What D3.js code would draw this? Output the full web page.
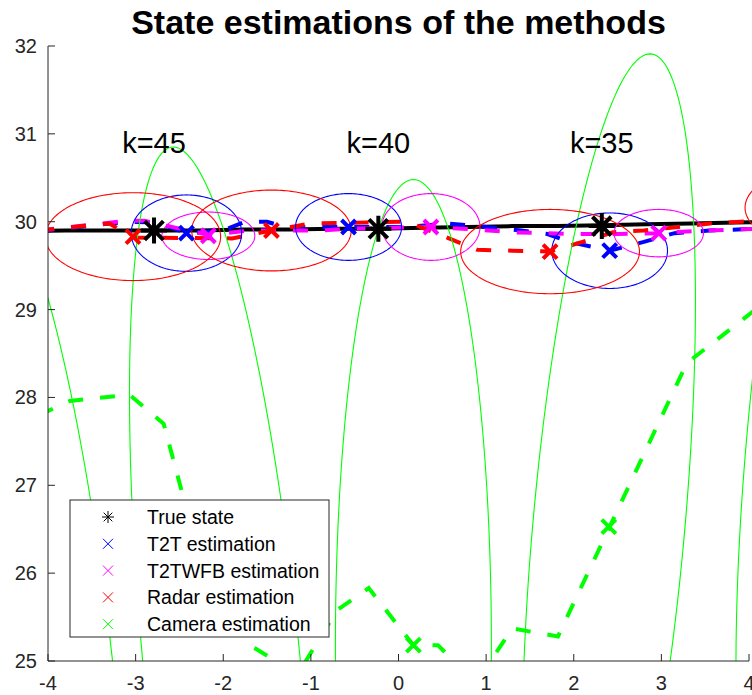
<!DOCTYPE html>
<html>
<head>
<meta charset="utf-8">
<title>State estimations of the methods</title>
<style>
    body { margin: 0; background: #fff; }
    svg { display: block; font-family: "Liberation Sans", Arial, sans-serif; }
    .tick-label { font-size: 20px; fill: #262626; }
    .axis-line { stroke: #262626; stroke-width: 1; fill: none; }
    .traj { fill: none; stroke-width: 4; stroke-dasharray: 15 17; }
    .ell { fill: none; stroke-width: 1.1; }
</style>
</head>
<body>
<div id="chart"></div>
<script src="https://cdn.jsdelivr.net/npm/d3@7"></script>
<script>
// axis ticks
var xTicks = [-4, -3, -2, -1, 0, 1, 2, 3, 4];
var yTicks = [25, 26, 27, 28, 29, 30, 31, 32];

// true state trajectory and marked steps
var trueX = [-4.31, -3.80, -3.29, -2.79, -2.27, -1.76, -1.25, -0.74, -0.23, 0.28, 0.79, 1.30, 1.81, 2.32, 2.83, 3.34, 3.85, 4.36];
var trueY = [29.89, 29.90, 29.90, 29.90, 29.90, 29.91, 29.91, 29.92, 29.92, 29.93, 29.94, 29.95, 29.95, 29.96, 29.97, 29.98, 29.99, 30.00];
var stepLabels = ["k=35", "k=40", "k=45"];
var trueMarkX = [2.32, -0.23, -2.79];
var trueMarkY = [29.95, 29.92, 29.90];

// T2T estimation
var t2tX = [-4.1, -3.1, -2.75, -2.42, -2.0, -1.75, -1.5, -1.3, -0.57, 0.1, 0.55, 1.0, 1.4, 1.7, 1.95, 2.41, 2.8, 3.15, 3.55, 4.1];
var t2tY = [29.89, 30.00, 29.99, 29.87, 29.90, 30.00, 30.00, 29.94, 29.94, 29.94, 29.98, 29.94, 29.90, 29.86, 29.77, 29.67, 29.77, 29.87, 29.90, 29.92];
var t2tMarkX = [2.41, -0.57, -2.42];
var t2tMarkY = [29.67, 29.94, 29.87];
var t2tRx = [0.66, 0.605, 0.63];
var t2tRy = [0.43, 0.38, 0.435];
var t2tSkew = [0, 0, 0];

// T2TWFB estimation
var wfbX = [-4.1, -3.1, -2.9, -2.17, -1.7, -0.9, -0.6, 0.37, 0.9, 1.3, 1.65, 2.05, 2.5, 2.97, 3.5, 4.1];
var wfbY = [29.90, 30.01, 30.01, 29.85, 29.90, 29.90, 29.92, 29.94, 29.91, 29.88, 29.87, 29.86, 29.86, 29.87, 29.90, 29.92];
var wfbMarkX = [2.97, 0.37, -2.17];
var wfbMarkY = [29.87, 29.94, 29.84];
var wfbRx = [0.51, 0.56, 0.53];
var wfbRy = [0.27, 0.38, 0.27];
var wfbSkew = [0, 0, 0];

// Radar estimation
var radarX = [-4.1, -3.6, -3.3, -3.03, -1.9, -1.45, -1.0, 0.1, 0.5, 0.9, 1.3, 1.73, 2.1, 2.45, 2.8, 3.2, 3.55, 4.1];
var radarY = [29.90, 29.95, 29.98, 29.82, 29.81, 29.90, 29.98, 30.00, 29.84, 29.68, 29.67, 29.66, 29.77, 29.88, 29.90, 29.94, 29.98, 30.01];
var radarMarkX = [4.955, 1.73, -1.45, -3.03];
var radarMarkY = [30.16, 29.66, 29.90, 29.83];
var radarRx = [1.0, 1.02, 0.91, 1.0];
var radarRy = [0.48, 0.48, 0.46, 0.50];
var radarSkew = [0, 0, 0, 0];

// Camera estimation
var camX = [-4.1, -3.75, -3.07, -2.68, -2.25, -1.73, -1.15, -0.70, -0.34, 0.17, 0.45, 0.88, 1.30, 1.82, 3.29, 4.1];
var camY = [27.80, 27.96, 28.03, 27.70, 26.10, 25.20, 24.85, 25.58, 25.83, 25.18, 25.18, 24.75, 25.37, 25.28, 28.39, 29.02];
var camMarkX = [4.84, 2.40, 0.17, -2.01, -4.11];
var camMarkY = [27.5, 26.53, 25.18, 24.9, 24.5];
var camRx = [0.87, 0.87, 0.89, 0.9, 0.9];
var camRy = [5.4, 5.38, 5.30, 5.95, 6.0];
var camSkew = [0.47, 0.47, 0, -0.56, -0.6];

var legendNames = ["True state", "T2T estimation", "T2TWFB estimation", "Radar estimation", "Camera estimation"];
var legendColors = ["#000000", "#0000ff", "#ff00ff", "#ff0000", "#00ff00"];

var width = 752, height = 695;
var margin = { top: 46, right: 3, bottom: 34, left: 48 };

var x = d3.scaleLinear().domain([-4, 4]).range([margin.left, width - margin.right]);
var y = d3.scaleLinear().domain([25, 32]).range([height - margin.bottom, margin.top]);

var svg = d3.select("#chart").append("svg")
    .attr("width", width)
    .attr("height", height);

svg.append("defs").append("clipPath").attr("id", "plot-clip")
    .append("rect")
    .attr("x", margin.left)
    .attr("y", margin.top)
    .attr("width", width - margin.left)
    .attr("height", height - margin.top - margin.bottom);

var plot = svg.append("g").attr("clip-path", "url(#plot-clip)");

function pts(xs, ys) {
    return xs.map(function(v, i) { return [v, ys[i]]; });
}

var line = d3.line()
    .x(function(d) { return x(d[0]); })
    .y(function(d) { return y(d[1]); });

// covariance-like ellipse, skew shifts the top sideways
function ellipsePts(cx, cy, rx, ry, skew) {
    return d3.range(0, 201).map(function(i) {
        var t = i / 200 * 2 * Math.PI;
        return [cx + rx * Math.cos(t) + skew * Math.sin(t), cy + ry * Math.sin(t)];
    });
}

// black true line
plot.append("path")
    .attr("d", line(pts(trueX, trueY)))
    .attr("fill", "none")
    .attr("stroke", "#000")
    .attr("stroke-width", 4);

var series = [
    { xs: camX, ys: camY, mx: camMarkX, my: camMarkY, rx: camRx, ry: camRy, sk: camSkew, color: "#00ff00" },
    { xs: t2tX, ys: t2tY, mx: t2tMarkX, my: t2tMarkY, rx: t2tRx, ry: t2tRy, sk: t2tSkew, color: "#0000ff" },
    { xs: wfbX, ys: wfbY, mx: wfbMarkX, my: wfbMarkY, rx: wfbRx, ry: wfbRy, sk: wfbSkew, color: "#ff00ff" },
    { xs: radarX, ys: radarY, mx: radarMarkX, my: radarMarkY, rx: radarRx, ry: radarRy, sk: radarSkew, color: "#ff0000" }
];

// dashed trajectories
series.forEach(function(s) {
    plot.append("path")
        .attr("class", "traj")
        .attr("d", line(pts(s.xs, s.ys)))
        .attr("stroke", s.color);
});

// uncertainty ellipses
series.forEach(function(s) {
    s.mx.forEach(function(cx, i) {
        plot.append("path")
            .attr("class", "ell")
            .attr("d", line(ellipsePts(cx, s.my[i], s.rx[i], s.ry[i], s.sk[i])) + "Z")
            .attr("stroke", s.color);
    });
});

function crossPath(px, py, r) {
    return "M" + (px - r) + "," + (py - r) + "L" + (px + r) + "," + (py + r) +
        "M" + (px - r) + "," + (py + r) + "L" + (px + r) + "," + (py - r);
}
function starPath(px, py, r) {
    return "M" + px + "," + (py - r) + "L" + px + "," + (py + r) +
        "M" + (px - r) + "," + py + "L" + (px + r) + "," + py +
        crossPath(px, py, 0.72 * r);
}

// estimate markers
series.forEach(function(s) {
    s.mx.forEach(function(cx, i) {
        plot.append("path")
            .attr("d", crossPath(x(cx), y(s.my[i]), 7))
            .attr("stroke", s.color)
            .attr("stroke-width", 4)
            .attr("fill", "none");
    });
});

// true state markers
trueMarkX.forEach(function(cx, i) {
    plot.append("path")
        .attr("d", starPath(x(cx), y(trueMarkY[i]), 13))
        .attr("stroke", "#000")
        .attr("stroke-width", 4)
        .attr("fill", "none");
});

// step labels
svg.selectAll(".step")
    .data(stepLabels)
    .enter().append("text")
    .attr("class", "step")
    .attr("x", function(d, i) { return x(trueMarkX[i]); })
    .attr("y", y(30.78))
    .attr("text-anchor", "middle")
    .style("font-size", "29px")
    .style("fill", "#000")
    .text(function(d) { return d; });

// axes (box off, ticks inside)
var axes = svg.append("g");
axes.append("path").attr("class", "axis-line")
    .attr("d", "M" + x(-4) + "," + y(32) + "V" + y(25) + "H" + x(4));

xTicks.forEach(function(t) {
    axes.append("line").attr("class", "axis-line")
        .attr("x1", x(t)).attr("x2", x(t))
        .attr("y1", y(25)).attr("y2", y(25) - 7);
    axes.append("text").attr("class", "tick-label")
        .attr("x", x(t)).attr("y", y(25) + 29)
        .attr("text-anchor", "middle")
        .text(t);
});
yTicks.forEach(function(t) {
    axes.append("line").attr("class", "axis-line")
        .attr("x1", x(-4)).attr("x2", x(-4) + 7)
        .attr("y1", y(t)).attr("y2", y(t));
    axes.append("text").attr("class", "tick-label")
        .attr("x", x(-4) - 11).attr("y", y(t) + 7)
        .attr("text-anchor", "end")
        .text(t);
});

// title
svg.append("text")
    .attr("x", (x(-4) + x(4)) / 2)
    .attr("y", 34)
    .attr("text-anchor", "middle")
    .style("font-size", "34px")
    .style("font-weight", "bold")
    .style("fill", "#000")
    .text("State estimations of the methods");

// legend
var legend = svg.append("g").attr("transform", "translate(70,500)");
legend.append("rect")
    .attr("width", 259).attr("height", 137)
    .attr("fill", "#fff")
    .attr("stroke", "#262626")
    .attr("stroke-width", 1);

legendNames.forEach(function(name, i) {
    var cy = 17 + i * 26.8;
    legend.append("path")
        .attr("d", i === 0 ? starPath(38, cy, 6) : crossPath(38, cy, 5))
        .attr("stroke", legendColors[i])
        .attr("stroke-width", 1)
        .attr("fill", "none");
    legend.append("text")
        .attr("x", 77).attr("y", cy + 7)
        .style("font-size", "19.5px")
        .style("fill", "#000")
        .text(name);
});
</script>
</body>
</html>
